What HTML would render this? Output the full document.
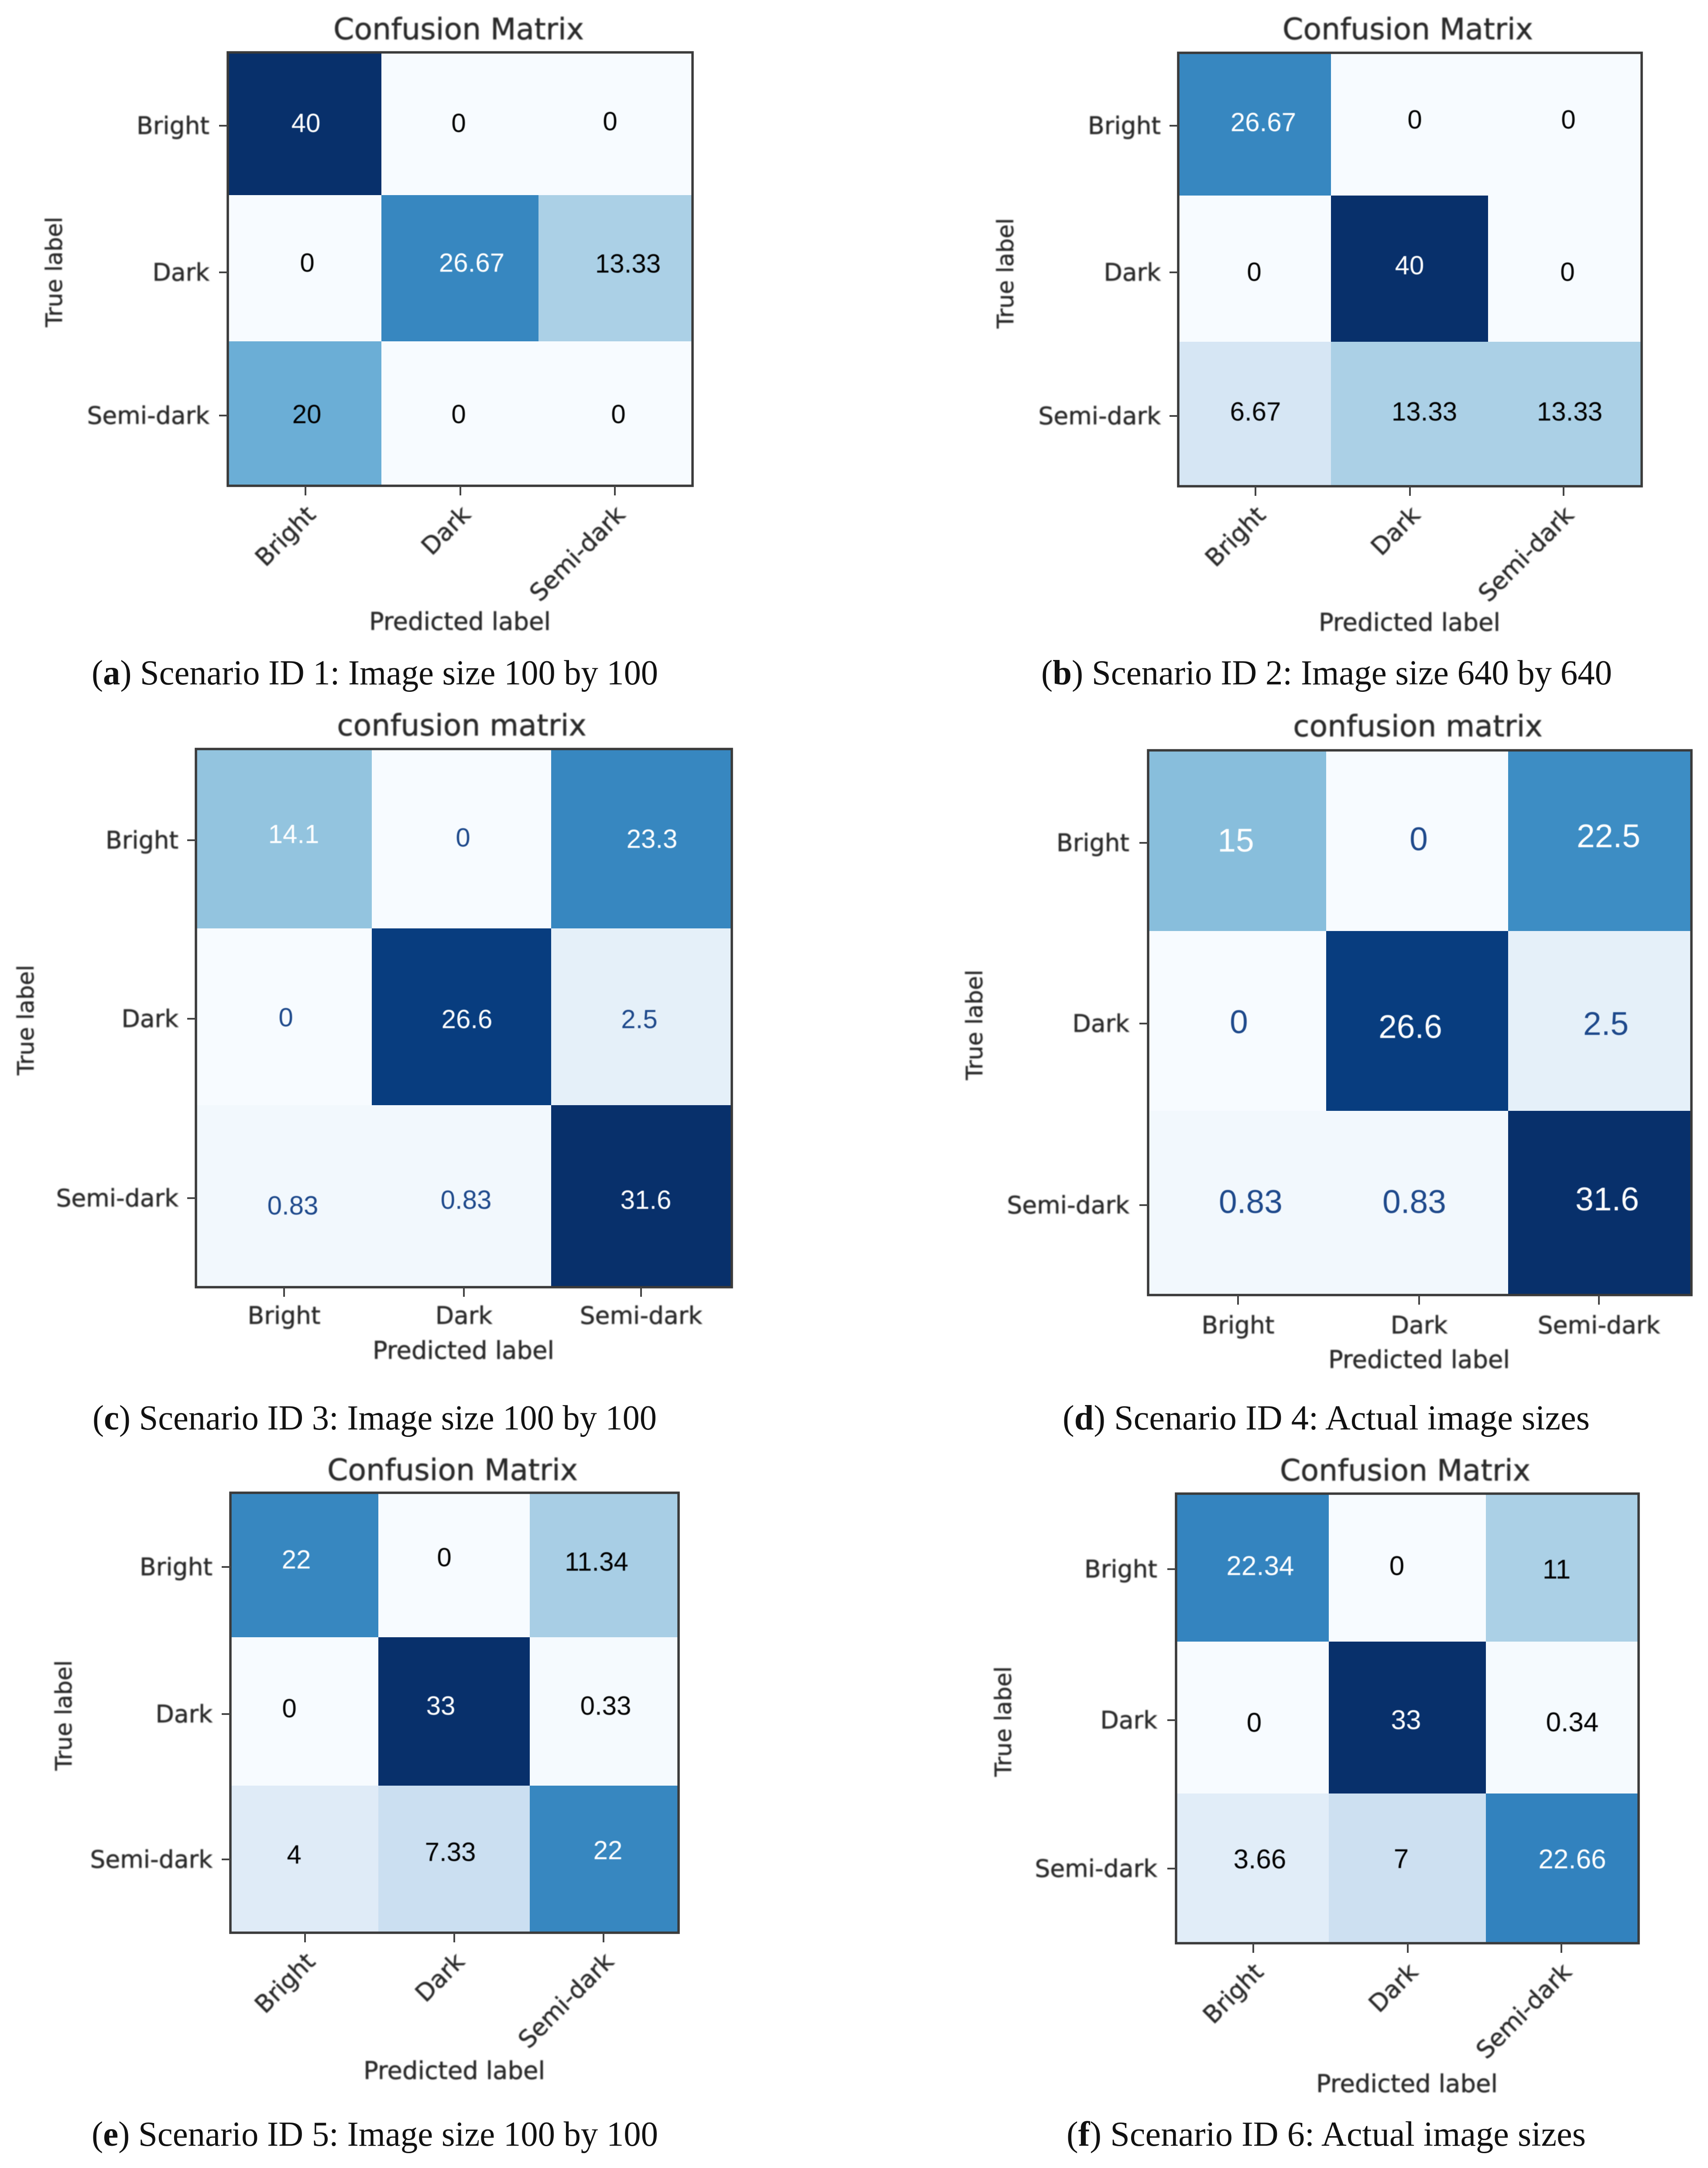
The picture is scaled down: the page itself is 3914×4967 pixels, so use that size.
<!DOCTYPE html>
<html lang="en">
<head>
<meta charset="utf-8">
<title>Confusion matrices for six scenarios</title>
<style>
html,body{margin:0;padding:0;background:#fff;width:3914px;height:4967px;overflow:hidden}
svg{display:block}
.chart-text{font-family:"DejaVu Sans","Liberation Sans",sans-serif;fill:#2a2a2a;stroke:#2a2a2a;stroke-width:.7px;filter:blur(1.2px)}
.value-text{font-family:"Liberation Sans",sans-serif;filter:blur(.8px)}
.caption{font-family:"Liberation Serif",serif;font-size:80px;fill:#111}
.caption tspan{font-weight:bold}
</style>
</head>
<body>
<svg id="figure" xmlns="http://www.w3.org/2000/svg" width="3914" height="4967" viewBox="0 0 3914 4967">
  <rect x="0" y="0" width="3914" height="4967" fill="#ffffff"/>
  <text class="caption" x="210" y="1568" textLength="1298" lengthAdjust="spacingAndGlyphs">(<tspan>a</tspan>) Scenario ID 1: Image size 100 by 100</text>
  <text class="caption" x="2386" y="1568" textLength="1308" lengthAdjust="spacingAndGlyphs">(<tspan>b</tspan>) Scenario ID 2: Image size 640 by 640</text>
  <text class="caption" x="212" y="3275" textLength="1293" lengthAdjust="spacingAndGlyphs">(<tspan>c</tspan>) Scenario ID 3: Image size 100 by 100</text>
  <text class="caption" x="2435" y="3275" textLength="1208" lengthAdjust="spacingAndGlyphs">(<tspan>d</tspan>) Scenario ID 4: Actual image sizes</text>
  <text class="caption" x="210" y="4916" textLength="1298" lengthAdjust="spacingAndGlyphs">(<tspan>e</tspan>) Scenario ID 5: Image size 100 by 100</text>
  <text class="caption" x="2444" y="4916" textLength="1190" lengthAdjust="spacingAndGlyphs">(<tspan>f</tspan>) Scenario ID 6: Actual image sizes</text>
</svg>
<script>
// ---- Chart data ----
const classLabels = ['Bright', 'Dark', 'Semi-dark'];
const valuesA = [[40, 0, 0], [0, 26.67, 13.33], [20, 0, 0]];
const valuesB = [[26.67, 0, 0], [0, 40, 0], [6.67, 13.33, 13.33]];
const valuesC = [[14.1, 0, 23.3], [0, 26.6, 2.5], [0.83, 0.83, 31.6]];
const valuesD = [[15, 0, 22.5], [0, 26.6, 2.5], [0.83, 0.83, 31.6]];
const valuesE = [[22, 0, 11.34], [0, 33, 0.33], [4, 7.33, 22]];
const valuesF = [[22.34, 0, 11], [0, 33, 0.34], [3.66, 7, 22.66]];
const rowScaleCD = [35, 28, 31.6];
const bluesStops = ['#f7fbff', '#deebf7', '#c6dbef', '#9ecae1', '#6baed6', '#4292c6', '#2171b5', '#08519c', '#08306b'];

// ---- Layout (pixels; not data) ----
const layouts = [
  { values: valuesA, title: 'Confusion Matrix', textThreshold: 0.6, lowText: '#000000', rotated: true, valueSize: 60,
    cols: [522, 874, 1234, 1587], rows: [120, 447, 782, 1113], xt: [700, 1055, 1409], yt: [288, 624, 952],
    titleX: 1051, titleY: 90, yLabelX: 125, yLabelY: 623, tickEnd: 480, predX: 1054, predY: 1443,
    nudge: [[[1,-6],[-4,-6],[-11,-10]], [[4,-22],[26,-22],[30,-20]], [[3,-3],[-4,-3],[8,-3]]] },
  { values: valuesB, title: 'Confusion Matrix', textThreshold: 0.6, lowText: '#000000', rotated: true, valueSize: 60,
    cols: [2700, 3050, 3410, 3762], rows: [121, 448, 783, 1114], xt: [2877, 3231, 3583], yt: [288, 624, 953],
    titleX: 3226, titleY: 90, yLabelX: 2305, yLabelY: 626, tickEnd: 2660, predX: 3230, predY: 1445,
    nudge: [[[18,-8],[11,-14],[11,-14]], [[-3,-1],[-1,-16],[9,-1]], [[0,-10],[33,-10],[14,-10]]] },
  { values: valuesC, title: 'confusion matrix', rowScale: rowScaleCD, textThreshold: 0.35, lowText: '#1f4a8c', rotated: false, valueSize: 60,
    cols: [449, 852, 1263, 1677], rows: [1716, 2127, 2532, 2949], xt: [651, 1063, 1469], yt: [1925, 2334, 2745],
    titleX: 1058, titleY: 1685, yLabelX: 60, yLabelY: 2337, tickEnd: 409, predX: 1062, predY: 3113, flatY: 3033,
    nudge: [[[22,-14],[-2,-6],[25,-3]], [[4,-3],[7,1],[-4,1]], [[20,17],[5,4],[11,4]]] },
  { values: valuesD, title: 'confusion matrix', rowScale: rowScaleCD, textThreshold: 0.35, lowText: '#1f4a8c', rotated: false, valueSize: 75,
    cols: [2631, 3039, 3456, 3876], rows: [1719, 2133, 2545, 2967], xt: [2837, 3252, 3664], yt: [1931, 2345, 2761],
    titleX: 3249, titleY: 1687, yLabelX: 2234, yLabelY: 2348, tickEnd: 2588, predX: 3252, predY: 3134, flatY: 3055,
    nudge: [[[-5,-6],[-1,-9],[22,-16]], [[2,-4],[-20,7],[16,0]], [[29,-8],[-11,-8],[19,-14]]] },
  { values: valuesE, title: 'Confusion Matrix', textThreshold: 0.6, lowText: '#000000', rotated: true, valueSize: 60,
    cols: [528, 867, 1214, 1555], rows: [3420, 3751, 4091, 4428], xt: [699, 1041, 1383], yt: [3590, 3927, 4260],
    titleX: 1037, titleY: 3391, yLabelX: 147, yLabelY: 3930, tickEnd: 487, predX: 1041, predY: 4763,
    nudge: [[[-20,-17],[-23,-22],[-16,-12]], [[-36,-13],[-31,-19],[5,-19]], [[-25,-11],[-9,-17],[10,-21]]] },
  { values: valuesF, title: 'Confusion Matrix', textThreshold: 0.6, lowText: '#000000', rotated: true, valueSize: 62,
    cols: [2695, 3045, 3405, 3755], rows: [3422, 3761, 4109, 4452], xt: [2872, 3226, 3578], yt: [3595, 3941, 4281],
    titleX: 3220, titleY: 3392, yLabelX: 2300, yLabelY: 3944, tickEnd: 2652, predX: 3224, predY: 4793,
    nudge: [[[16,-7],[-25,-7],[-11,1]], [[2,6],[-4,0],[25,5]], [[15,-21],[-15,-22],[25,-21]]] }
];

const SVG_NS = 'http://www.w3.org/2000/svg';
const figure = document.getElementById('figure');

function make(tag, attrs, parent) {
  const node = document.createElementNS(SVG_NS, tag);
  Object.keys(attrs).forEach(function (k) { node.setAttribute(k, attrs[k]); });
  parent.appendChild(node);
  return node;
}
function hexToRgb(h) {
  return [parseInt(h.slice(1, 3), 16), parseInt(h.slice(3, 5), 16), parseInt(h.slice(5, 7), 16)];
}
function blues(t) {
  const clamped = Math.max(0, Math.min(1, t));
  const pos = clamped * (bluesStops.length - 1);
  const lo = Math.min(Math.floor(pos), bluesStops.length - 2);
  const f = pos - lo;
  const a = hexToRgb(bluesStops[lo]);
  const b = hexToRgb(bluesStops[lo + 1]);
  return 'rgb(' + a.map(function (c, i) { return Math.round(c + (b[i] - c) * f); }).join(',') + ')';
}
function normaliser(layout) {
  const values = layout.values;
  if (layout.rowScale) {
    return function (r, c) { return values[r][c] / layout.rowScale[r]; };
  }
  const peak = Math.max.apply(null, values.map(function (row) { return Math.max.apply(null, row); }));
  return function (r, c) { return peak ? values[r][c] / peak : 0; };
}

layouts.forEach(function (L) {
  const xScale = function (i) { return L.xt[i]; };
  const yScale = function (i) { return L.yt[i]; };
  const left = L.cols[0], right = L.cols[3], top = L.rows[0], bottom = L.rows[3];
  const norm = normaliser(L);

  const panel = make('g', {}, figure);
  
  

  const title = make('text', { class: 'chart-text', x: L.titleX, y: L.titleY, 'text-anchor': 'middle', 'font-size': 68 }, panel);
  title.textContent = L.title;
  
  

  L.values.forEach(function (row, r) {
    row.forEach(function (v, c) {
      const t = norm(r, c);
      const cell = make('rect', {
        x: L.cols[c], y: L.rows[r],
        width: L.cols[c + 1] - L.cols[c], height: L.rows[r + 1] - L.rows[r],
        fill: blues(t), 'shape-rendering': 'crispEdges'
      }, panel);
      
      
    });
  });

  const frame = make('rect', { x: left, y: top, width: right - left, height: bottom - top, fill: 'none', stroke: '#3a3a3a', 'stroke-width': 5.5 }, panel);
  
  

  L.values.forEach(function (row, r) {
    row.forEach(function (v, c) {
      const t = norm(r, c);
      const label = make('text', {
        class: 'value-text',
        x: xScale(c) + L.nudge[r][c][0], y: yScale(r) + L.nudge[r][c][1],
        'text-anchor': 'middle', 'dominant-baseline': 'central',
        'font-size': L.valueSize, fill: t > L.textThreshold ? '#ffffff' : L.lowText
      }, panel);
      label.textContent = String(v);
      
      
    });
  });

  classLabels.forEach(function (name, i) {
    const ytick = make('line', { x1: left - 20, x2: left, y1: yScale(i), y2: yScale(i), stroke: '#444', 'stroke-width': 4 }, panel);
    
    

    const ylabel = make('text', { class: 'chart-text', x: L.tickEnd, y: yScale(i), 'text-anchor': 'end', 'dominant-baseline': 'central', 'font-size': 55 }, panel);
    ylabel.textContent = name;
    
    

    const xtick = make('line', { x1: xScale(i), x2: xScale(i), y1: bottom, y2: bottom + 22, stroke: '#444', 'stroke-width': 4 }, panel);
    
    

    const xlabel = L.rotated
      ? make('text', { class: 'chart-text', x: xScale(i) + 13, y: bottom + 56, 'text-anchor': 'end', 'dominant-baseline': 'central', 'font-size': 55,
          transform: 'rotate(-45 ' + (xScale(i) + 13) + ' ' + (bottom + 56) + ')' }, panel)
      : make('text', { class: 'chart-text', x: xScale(i), y: L.flatY, 'text-anchor': 'middle', 'font-size': 55 }, panel);
    xlabel.textContent = name;
    
    
  });

  const yTitle = make('text', { class: 'chart-text', x: L.yLabelX, y: L.yLabelY, 'text-anchor': 'middle', 'dominant-baseline': 'central', 'font-size': 52,
    transform: 'rotate(-90 ' + L.yLabelX + ' ' + L.yLabelY + ')' }, panel);
  yTitle.textContent = 'True label';
  
  

  const xTitle = make('text', { class: 'chart-text', x: L.predX, y: L.predY, 'text-anchor': 'middle', 'font-size': 56 }, panel);
  xTitle.textContent = 'Predicted label';
  
  
});
</script>
</body>
</html>
